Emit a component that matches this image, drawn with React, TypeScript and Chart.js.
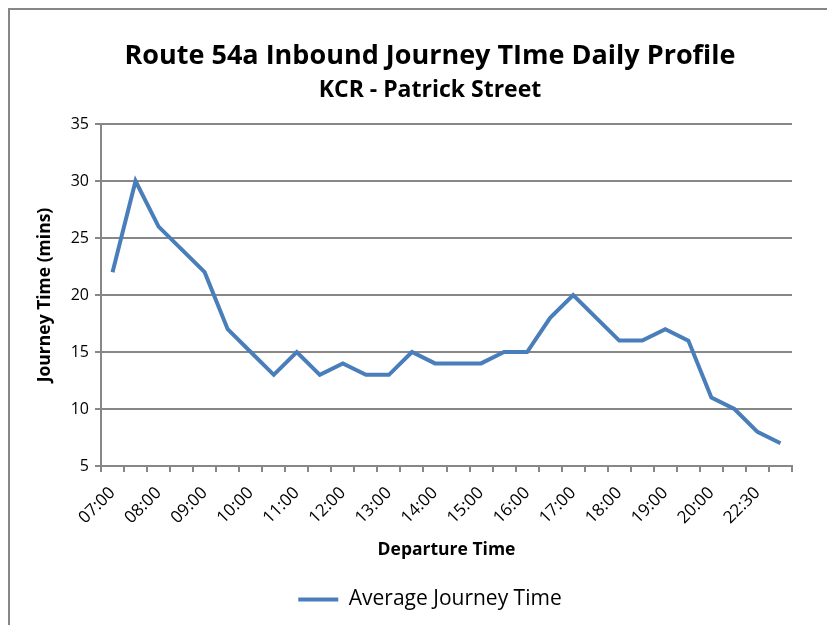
import React, { useEffect, useRef } from "react";
import { Chart, registerables } from "chart.js";

Chart.register(...registerables);

const categories = [
  "07:00", "07:30", "08:00", "08:30", "09:00", "09:30", "10:00", "10:30",
  "11:00", "11:30", "12:00", "12:30", "13:00", "13:30", "14:00", "14:30",
  "15:00", "15:30", "16:00", "16:30", "17:00", "17:30", "18:00", "18:30",
  "19:00", "19:30", "20:00", "21:00", "22:30", "23:30",
];

const averageJourneyTime = [
  22, 30, 26, 24, 22, 17, 15, 13, 15, 13, 14, 13, 13, 15, 14, 14,
  14, 15, 15, 18, 20, 18, 16, 16, 17, 16, 11, 10, 8, 7,
];

const shownTickIndexes = [0, 2, 4, 6, 8, 10, 12, 14, 16, 18, 20, 22, 24, 26, 28];

const titleText = "Route 54a Inbound Journey TIme Daily Profile";
const subtitleText = "KCR - Patrick Street";
const yTitle = "Journey Time (mins)";
const xTitle = "Departure Time";
const seriesName = "Average Journey Time";

const FONT = "'Open Sans', sans-serif";
const LINE_BLUE = "#4a7ebb";
const GRID = "#878787";

export default function App() {
  const canvasRef = useRef<HTMLCanvasElement | null>(null);

  useEffect(() => {
    document.documentElement.style.overflow = "hidden";
    document.body.style.overflow = "hidden";
    const canvas = canvasRef.current;
    if (!canvas) return;
    const chart = new Chart(canvas, {
      type: "line",
      data: {
        labels: categories,
        datasets: [
          {
            label: seriesName,
            data: averageJourneyTime,
            borderColor: LINE_BLUE,
            backgroundColor: LINE_BLUE,
            borderWidth: 4,
            pointRadius: 0,
            tension: 0,
            borderJoinStyle: "miter",
            yAxisID: "y",
          },
        ],
      },
      options: {
        animation: false,
        responsive: false,
        layout: { padding: { left: 15, right: 0, top: 0, bottom: 5 } },
        plugins: {
          tooltip: { enabled: false },
          title: {
            display: true,
            text: titleText,
            color: "#000",
            font: { family: FONT, size: 27, weight: "bold" },
            padding: { top: 29.8, bottom: 0 },
          },
          subtitle: {
            display: true,
            text: subtitleText,
            color: "#000",
            font: { family: FONT, size: 23, weight: "bold" },
            padding: { top: 4, bottom: 20.2 },
          },
          legend: {
            position: "bottom",
            labels: {
              color: "#000",
              font: { family: FONT, size: 21 },
              usePointStyle: true,
              pointStyle: "line",
              pointStyleWidth: 40,
              padding: 10,
              generateLabels: () => [
                {
                  text: seriesName,
                  strokeStyle: LINE_BLUE,
                  fillStyle: LINE_BLUE,
                  lineWidth: 4,
                  pointStyle: "line",
                  hidden: false,
                  datasetIndex: 0,
                  fontColor: "#000",
                },
              ],
            },
          },
        },
        scales: {
          x: {
            type: "category",
            offset: true,
            afterFit: (scale: any) => {
              scale.height = 113;
            },
            grid: {
              offset: true,
              drawOnChartArea: false,
              drawTicks: true,
              tickLength: 6,
              color: GRID,
              lineWidth: 2,
            },
            border: { display: true, color: GRID, width: 2 },
            ticks: {
              autoSkip: false,
              maxRotation: 45,
              minRotation: 45,
              color: "#000",
              font: { family: FONT, size: 17 },
              padding: 11,
              callback: (_v: any, i: number) =>
                shownTickIndexes.includes(i) ? categories[i] : "",
            },
            title: {
              display: true,
              text: xTitle,
              color: "#000",
              font: { family: FONT, size: 17.5, weight: "bold" },
              padding: { top: 0, bottom: 18.5 },
            },
          },
          y: {
            min: 5,
            max: 35,
            position: "left",
            afterFit: (scale: any) => {
              scale.width = 76;
            },
            ticks: {
              stepSize: 5,
              color: "#000",
              font: { family: FONT, size: 16 },
              padding: 6,
            },
            grid: {
              color: GRID,
              lineWidth: 2,
              drawTicks: true,
              tickLength: 6,
            },
            border: { display: true, color: GRID, width: 2 },
            title: {
              display: true,
              text: yTitle,
              color: "#000",
              font: { family: FONT, size: 17.5, weight: "bold" },
              padding: { top: 9.5, bottom: 0 },
            },
          },
          rightSpace: {
            type: "linear",
            position: "right",
            display: true,
            afterFit: (scale: any) => {
              scale.width = 43;
            },
            grid: { display: false, drawOnChartArea: false, drawTicks: false },
            border: { display: false },
            ticks: { display: false },
            title: { display: false },
          },
        },
      },
    });
    return () => chart.destroy();
  }, []);

  return (
    <div
      style={{
        width: 827,
        height: 617,
        boxSizing: "border-box",
        borderTop: `2px solid ${GRID}`,
        borderLeft: `2px solid ${GRID}`,
        background: "#fff",
        overflow: "hidden",
      }}
    >
      <canvas
        ref={canvasRef}
        width={825}
        height={615}
        style={{ display: "block", width: 825, height: 615 }}
      />
    </div>
  );
}
